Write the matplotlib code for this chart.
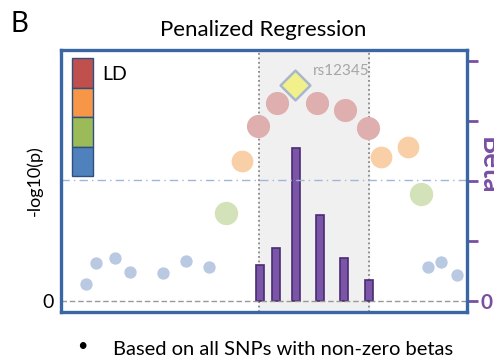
import matplotlib.pyplot as plt
from matplotlib.patches import Rectangle

plt.rcParams['font.family'] = ['Lato', 'DejaVu Sans']

# SNP positions (0-100 scale) and -log10(p) values, grouped by LD colour
blue_x = [6.2, 8.6, 13.3, 17.0, 25.1, 30.8, 36.5, 90.4, 93.6, 97.5]
blue_y = [0.85, 1.9, 2.15, 1.45, 1.4, 2.0, 1.7, 1.7, 1.95, 1.3]
green_x = [40.6, 88.7]
green_y = [4.4, 5.35]
orange_x = [44.6, 78.8, 85.5]
orange_y = [7.0, 7.2, 7.7]
red_x = [48.5, 53.2, 63.1, 70.0, 75.6]
red_y = [8.75, 9.9, 9.9, 9.55, 8.65]
lead_x = [57.6]
lead_y = [10.8]
lead_name = 'rs12345'

# penalized regression betas (non-zero only)
beta_x = [49.0, 53.0, 57.9, 63.8, 69.7, 75.9]
beta = [0.6, 0.88, 2.55, 1.43, 0.72, 0.35]

region = [48.8, 75.9]
threshold = 6.05

ld_colors = ['#c0504d', '#f79646', '#9bbb59', '#4f81bd']

frame = '#3a66a3'
purple = '#7a4fa3'

fig = plt.figure(figsize=(4.94, 3.6), dpi=100)
ax = fig.add_axes([0.1235, 0.1333, 0.822, 0.728])
ax2 = ax.twinx()
ax.set_zorder(2)
ax.patch.set_visible(False)

ax.set_xlim(0, 100)
ax.set_ylim(-0.55, 12.55)
ax2.set_ylim(-0.55 / 3, 12.55 / 3)

# shaded region and its borders
ax2.axvspan(region[0], region[1], color='#f0f0f0', zorder=0)
for xv in region:
    ax2.axvline(xv, color='#888888', ls=(0, (1, 1.5)), lw=1.3, zorder=1)

# beta bars
ax2.bar(beta_x, beta, width=2.0, color='#7b55a8', edgecolor='#4a2c72', lw=1.2, zorder=3)

# reference lines
ax.axhline(0, color='#999999', ls=(0, (4, 2)), lw=1, zorder=1)
ax.axhline(threshold, color='#9fb6d8', ls=(0, (6, 3, 1, 3)), lw=1, zorder=1)

# SNP points
ax.scatter(blue_x, blue_y, s=62, color='#b9c9e1', zorder=4)
ax.scatter(green_x, green_y, s=250, color='#d3e2b9', zorder=4)
ax.scatter(orange_x, orange_y, s=215, color='#f9cfa8', zorder=4)
ax.scatter(red_x, red_y, s=245, color='#dfaeae', zorder=4)
ax.scatter(lead_x, lead_y, s=230, marker='D', color='#f2f08a', edgecolor='#a9b6cc',
           lw=1.8, zorder=5)
ax.text(62.1, 11.5, lead_name, color='#a6a6a6', fontsize=11, va='center', zorder=5)

# LD colour legend
for i, c in enumerate(ld_colors):
    ax.add_patch(Rectangle((0.027, 0.8565 - i * 0.1125), 0.052, 0.1125, transform=ax.transAxes,
                           facecolor=c, edgecolor='#2e4f80', lw=1, zorder=6))
ax.text(0.101, 0.905, 'LD', transform=ax.transAxes, fontsize=14, va='center', zorder=6)

# axes styling
for sp in ['left', 'right', 'top', 'bottom']:
    ax.spines[sp].set_color(frame)
    ax.spines[sp].set_linewidth(2.4)
    ax2.spines[sp].set_visible(False)
ax.set_xticks([])
ax.set_yticks([0])
ax.tick_params(axis='y', length=0, labelsize=14, pad=5)
ax.set_ylabel('-log10(p)', fontsize=13)
ax.yaxis.set_label_coords(-0.045, 0.5)

ax2.set_yticks([0, 1, 2, 3, 4])
ax2.set_yticklabels(['0', '', '', '', ''])
ax2.tick_params(axis='y', color=purple, labelcolor=purple, length=8, width=2,
                labelsize=15, pad=2)
for t in ax2.get_yticklabels():
    t.set_fontweight('bold')

fig.text(0.963, 0.54, 'Beta', rotation=270, color=purple, fontsize=20, fontweight='bold',
         ha='left', va='center')

fig.text(0.532, 0.9, 'Penalized Regression', ha='center', va='baseline', fontsize=16)
fig.text(0.022, 0.933, 'B', ha='left', va='center', fontsize=20)
fig.text(0.166, 0.039, '\u2022', ha='center', va='center', fontsize=13)
fig.text(0.229, 0.015, 'Based on all SNPs with non-zero betas', ha='left', va='baseline',
         fontsize=14.5)

plt.savefig('out.png', dpi=100)
